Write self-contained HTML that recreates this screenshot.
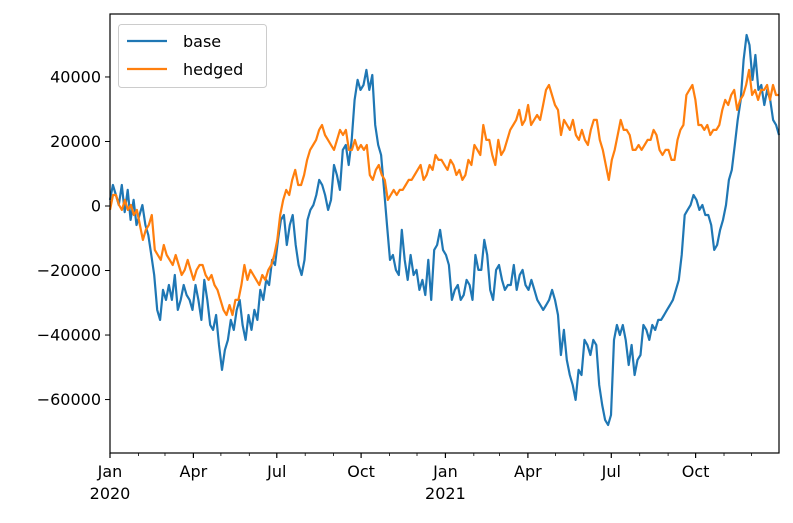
<!DOCTYPE html>
<html><head><meta charset="utf-8"><style>
body{margin:0;background:#fff}
svg text{font-family:"DejaVu Sans","Liberation Sans",sans-serif;fill:#000}
</style></head><body>
<svg id="chart" width="793" height="518" viewBox="0 0 793 518" xmlns="http://www.w3.org/2000/svg">
<rect width="793" height="518" fill="#fff"/>
<g id="plot"></g>
</svg>
<script>
// values in thousands, sampled evenly across Jan 1 2020 – Dec 31 2021
const baseValues=[1.9,6.5,3.4,0.3,6.5,-1.9,5,-4.3,1.9,-5.9,-2.8,0.3,-5.9,-9,-15.2,-21.4,-32.2,-35.3,-26,-29.1,-24.5,-29.1,-21.4,-32.2,-29.1,-24.5,-27.6,-29.1,-32.2,-24.5,-29.1,-35.3,-22.9,-29.1,-36.9,-38.4,-33.8,-43.1,-50.8,-44.6,-41.5,-35.3,-38.4,-32.2,-29.1,-36.9,-41.5,-33.8,-38.4,-32.2,-35.3,-26,-29.1,-22.9,-24.5,-16.7,-18.3,-10.5,-4.3,-2.8,-12.1,-5.9,-2.8,-12.1,-18.3,-21.4,-16.7,-4.3,-1.2,0.3,3.4,8.1,6.5,3.4,-1.2,1.9,12.7,9.6,5,17.4,18.9,12.7,20.5,32.9,39.1,36,37.5,42.2,36,40.6,25.1,18.9,15.8,5,-5.9,-16.7,-15.2,-19.8,-21.4,-7.4,-16.7,-22.9,-15.2,-21.4,-19.8,-26,-22.9,-27.6,-16.7,-29.1,-13.6,-12.1,-7.4,-13.6,-15.2,-18.3,-29.1,-26,-24.5,-29.1,-27.6,-22.9,-24.5,-29.1,-15.2,-19.8,-19.8,-10.5,-15.2,-26,-29.1,-19.8,-18.3,-22.9,-26,-24.5,-24.5,-18.3,-26,-21.4,-19.8,-24.5,-26,-22.9,-26,-29.1,-30.7,-32.2,-30.7,-29.1,-26,-29.1,-33.8,-46.2,-38.4,-47.7,-52.4,-55.5,-60.1,-50.8,-52.4,-41.5,-43.1,-46.2,-41.5,-43.1,-55.5,-61.7,-66.3,-67.9,-64.8,-41.5,-36.9,-40,-36.9,-41.5,-49.3,-43.1,-52.4,-47.7,-46.2,-36.9,-38.4,-41.5,-36.9,-38.4,-35.3,-35.3,-33.8,-32.2,-30.7,-29.1,-26,-22.9,-15.2,-2.8,-1.2,0.3,3.4,1.9,-1.2,0.3,-2.8,-2.8,-5.9,-13.6,-12.1,-7.4,-4.3,0.3,8.1,11.2,18.9,26.7,32.9,45.3,53,49.9,39.1,46.8,36,37.5,31.3,36,32.9,26.7,25.1,22];
const hedgedValues=[-1.2,3.4,3.4,0.3,-1.2,1.9,-1.2,0.3,-2.8,-1.2,-5.9,-10.5,-7.4,-5.9,-2.8,-13.6,-15.2,-16.7,-12.1,-15.2,-16.7,-18.3,-15.2,-18.3,-21.4,-19.8,-16.7,-19.8,-22.9,-19.8,-18.3,-18.3,-21.4,-22.9,-21.4,-24.5,-26,-29.1,-32.2,-33.8,-30.7,-33.8,-29.1,-29.1,-24.5,-18.3,-22.9,-19.8,-21.4,-22.9,-24.5,-21.4,-22.9,-19.8,-18.3,-15.2,-10.5,-2.8,1.9,5,3.4,8.1,11.2,6.5,6.5,9.6,14.3,17.4,18.9,20.5,23.6,25.1,22,20.5,18.9,17.4,20.5,23.6,22,23.6,17.4,17.4,20.5,17.4,18.9,17.4,18.9,9.6,8.1,11.2,12.7,9.6,8.1,1.9,3.4,5,3.4,5,5,6.5,8.1,8.1,9.6,11.2,12.7,8.1,9.6,12.7,11.2,15.8,14.3,14.3,12.7,11.2,14.3,12.7,9.6,11.2,8.1,9.6,14.3,12.7,18.9,17.4,15.8,25.1,20.5,20.5,15.8,12.7,20.5,15.8,17.4,20.5,23.6,25.1,26.7,29.8,25.1,26.7,31.3,25.1,26.7,28.2,26.7,31.3,36,37.5,34.4,31.3,29.8,22,26.7,25.1,23.6,26.7,22,20.5,23.6,20.5,18.9,23.6,26.7,26.7,20.5,17.4,12.7,8.1,14.3,17.4,22,26.7,23.6,23.6,22,17.4,17.4,18.9,17.4,18.9,20.5,20.5,23.6,22,17.4,15.8,17.4,17.4,14.3,14.3,20.5,23.6,25.1,34.4,36,37.5,32.9,25.1,25.1,23.6,25.1,22,23.6,23.6,25.1,29.8,32.9,31.3,34.4,36,29.8,32.9,34.4,37.5,42.2,34.4,36,32.9,36,36,37.5,32.9,37.5,34.4,34.4];
const yTickValues=[-60000,-40000,-20000,0,20000,40000];
const xMajorLabels=[["Jan","2020"],["Apr",""],["Jul",""],["Oct",""],["Jan","2021"],["Apr",""],["Jul",""],["Oct",""]];
const seriesNames=["base","hedged"];

const L=110,R=779,T=14,B=453;
const yMin=-76570,yMax=59520;
const t0=Date.UTC(2020,0,1),t1=Date.UTC(2021,11,31);
const X=t=>L+(t-t0)/(t1-t0)*(R-L);
const Y=v=>T+(yMax-v)/(yMax-yMin)*(B-T);
const NS="http://www.w3.org/2000/svg";
const g=document.getElementById('plot');
function mk(tag,attrs,parent){const e=document.createElementNS(NS,tag);for(const k in attrs)e.setAttribute(k,attrs[k]);(parent||g).appendChild(e);return e;}

function drawSeries(vals,color,name){
  const n=vals.length;let d="";
  vals.forEach((v,i)=>{const t=t0+i/(n-1)*(t1-t0);d+=(i?"L":"M")+X(t).toFixed(1)+","+Y(v*1000).toFixed(1);});
  const p=mk('path',{d:d,fill:'none',stroke:color,'stroke-width':2.2,'stroke-linejoin':'round'});
  
  
}
drawSeries(baseValues,'#1f77b4','base-line');
drawSeries(hedgedValues,'#ff7f0e','hedged-line');

const fr=mk('rect',{x:L,y:T,width:R-L,height:B-T,fill:'none',stroke:'#000','stroke-width':1.2});



yTickValues.forEach(v=>{
  const y=Y(v);
  mk('line',{x1:L-5,x2:L,y1:y,y2:y,stroke:'#000','stroke-width':1});
  const tx=mk('text',{x:L-9,y:y+5.5,'text-anchor':'end','font-size':16});
  tx.textContent=String(v).replace('-','\u2212');
  
  
});

for(let m=0;m<24;m++){
  const t=Date.UTC(2020+Math.floor(m/12),m%12,1);const x=X(t);
  const major=m%3===0;
  mk('line',{x1:x,x2:x,y1:B,y2:B+(major?5:3),stroke:'#000','stroke-width':major?1.2:0.8});
  if(major){
    const lab=xMajorLabels[m/3];
    const tx=mk('text',{x:x,y:B+24,'text-anchor':'middle','font-size':16});
    tx.textContent=lab[0];
    
    
    if(lab[1]){const ty=mk('text',{x:x,y:B+46,'text-anchor':'middle','font-size':16});ty.textContent=lab[1];
      
      }
  }
}

const lg=mk('g',{});


mk('rect',{x:118.5,y:24.5,width:148,height:63,rx:3,fill:'#fff','fill-opacity':0.8,stroke:'#ccc','stroke-width':1},lg);
[['#1f77b4',41],['#ff7f0e',69]].forEach((c,i)=>{
  const e=mk('g',{},lg);
  
  
  mk('line',{x1:127,x2:167,y1:c[1],y2:c[1],stroke:c[0],'stroke-width':2.2},e);
  const tx=mk('text',{x:183,y:c[1]+6,'font-size':16},e);tx.textContent=seriesNames[i];
});
</script>
</body></html>
